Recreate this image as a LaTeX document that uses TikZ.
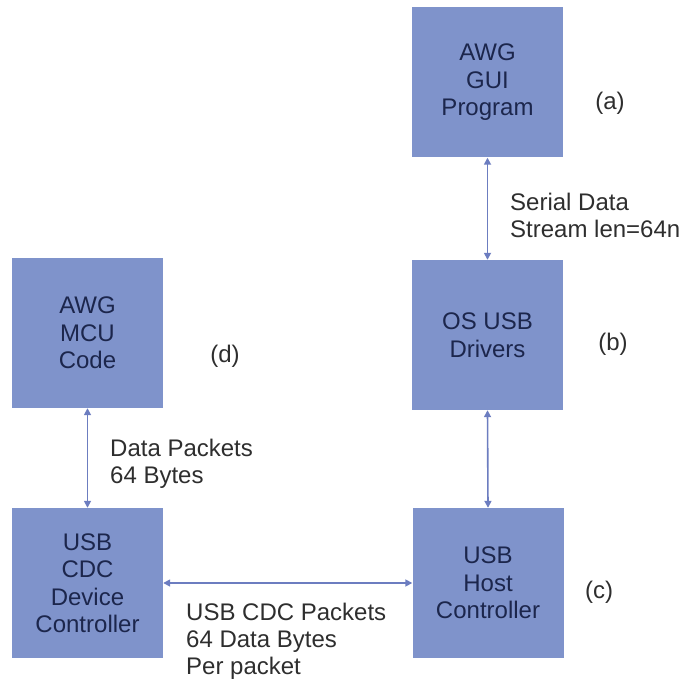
\documentclass[tikz,border=0pt]{standalone}
\usepackage{fontspec}
\setmainfont{Liberation Sans}
\usetikzlibrary{arrows.meta}
\definecolor{boxfill}{HTML}{7F93CB}
\definecolor{boxtext}{HTML}{1C264C}
\definecolor{linkcol}{HTML}{6C7DC0}
\definecolor{labeltext}{HTML}{2E2E2E}
\tikzset{
  block/.style={rectangle, fill=boxfill, draw=none, minimum width=151pt,
    minimum height=150pt, inner sep=0pt, align=center, text=boxtext,
    font=\fontsize{24}{27.5}\selectfont},
  note/.style={align=left, text=labeltext, inner sep=0pt,
    font=\fontsize{24}{27}\selectfont},
  tag/.style={text=labeltext, inner sep=0pt, font=\fontsize{24}{27}\selectfont},
  link/.style={draw=linkcol, line width=1.6pt,
    {Triangle[width=7pt,length=7pt]}-{Triangle[width=7pt,length=7pt]}}
}
\begin{document}
\begin{tikzpicture}[x=1pt,y=-1pt]
\useasboundingbox (0,0) rectangle (688,684);
% blocks
\node[block] (gui)  at (487.5,82.5)  {AWG\\GUI\\Program};
\node[block] (os)   at (487.5,335)   {OS USB\\Drivers};
\node[block] (host) at (488,583)     {USB\\Host\\Controller};
\node[block] (mcu)  at (87.5,333)    {AWG\\MCU\\Code};
\node[block] (dev)  at (87.5,583)    {USB\\CDC\\Device\\Controller};
% side tags
\node[tag] (ta) at (610,103) {(a)};
\node[tag] (tb) at (613,344) {(b)};
\node[tag] (tc) at (599,592) {(c)};
\node[tag] (td) at (225,356) {(d)};
% connectors
\draw[link] (gui.south) -- (os.north);
\draw[link] (os.south) -- (host.north);
\draw[link] (mcu.south) -- (dev.north);
\draw[link] (dev.east |- 0,583) coordinate (hl) -- (host.west |- hl);
% connector notes
\node[note, anchor=west] (n1) at (510,215) {Serial Data\\Stream len=64n};
\node[note, anchor=west] (n2) at (110,464) {Data Packets\\64 Bytes};
\node[note, anchor=west] (n3) at (186,641) {USB CDC Packets\\64 Data Bytes\\Per packet};
\end{tikzpicture}
\end{document}
